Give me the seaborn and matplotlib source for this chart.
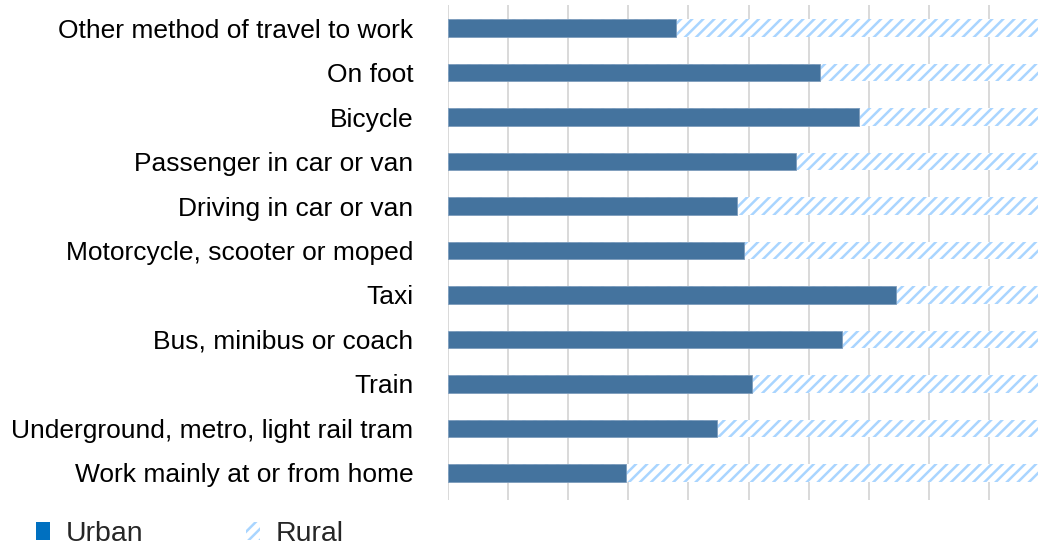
import matplotlib
matplotlib.use("Agg")
import matplotlib.pyplot as plt
from matplotlib.patches import Patch
import pandas as pd
import seaborn as sns

# Share of commuters (%) by method of travel, urban vs rural
modes = [
    "Other method of travel to work",
    "On foot",
    "Bicycle",
    "Passenger in car or van",
    "Driving in car or van",
    "Motorcycle, scooter or moped",
    "Taxi",
    "Bus, minibus or coach",
    "Train",
    "Underground, metro, light rail tram",
    "Work mainly at or from home",
]
urban = [37.9, 61.9, 68.4, 57.9, 48.1, 49.3, 74.6, 65.5, 50.6, 44.8, 29.6]
rural = [62.1, 38.1, 31.6, 42.1, 51.9, 50.7, 25.4, 34.5, 49.4, 55.2, 70.4]
series_names = ["Urban", "Rural"]

df = pd.DataFrame({"mode": modes, "urban": urban, "rural": rural})
df["total"] = df["urban"] + df["rural"]

sns.set_style("white")
plt.rcParams["font.family"] = ["Liberation Sans", "DejaVu Sans"]
plt.rcParams["hatch.linewidth"] = 1.8

bar_color = "#44739e"
legend_color = "#0070c0"
hatch_color = "#a9d5ff"

fig = plt.figure(figsize=(10.38, 5.45), dpi=100)
# axes runs past the right edge, like the cropped original
ax = fig.add_axes([448 / 1038, 45 / 545, 601 / 1038, 495 / 545])

# rural stacked on urban: draw the full bar hatched, then urban over it
sns.barplot(data=df, y="mode", x="total", orient="h", ax=ax, width=0.39,
            color="white", edgecolor=hatch_color, linewidth=0, hatch="///",
            saturation=1)
sns.barplot(data=df, y="mode", x="urban", orient="h", ax=ax, width=0.39,
            color=bar_color, edgecolor="#7d9cbc", linewidth=0.6,
            saturation=1)

ax.set_xlim(0, 100)
ax.set_ylim(10.61, -0.52)
ax.set_xticks(range(0, 101, 10))
ax.set_xticklabels([])
ax.grid(axis="x", color="#d9d9d9", linewidth=1.4)
ax.set_axisbelow(True)
for s in ax.spines.values():
    s.set_visible(False)
ax.set_xlabel("")
ax.set_ylabel("")
ax.tick_params(axis="y", length=0, pad=25, labelsize=19, labelcolor="black")
ax.tick_params(axis="x", length=0)

handles = [
    Patch(facecolor=legend_color, edgecolor="none"),
    Patch(facecolor="white", edgecolor=hatch_color, linewidth=0, hatch="///"),
]
fig.legend(handles, series_names, loc="lower left",
           bbox_to_anchor=(36 / 1038, -2 / 545), ncol=2, frameon=False,
           fontsize=20.5, handlelength=0.5, handleheight=0.6,
           handletextpad=0.55, columnspacing=3.6, borderpad=0,
           borderaxespad=0)

fig.savefig("out.png", dpi=100)
